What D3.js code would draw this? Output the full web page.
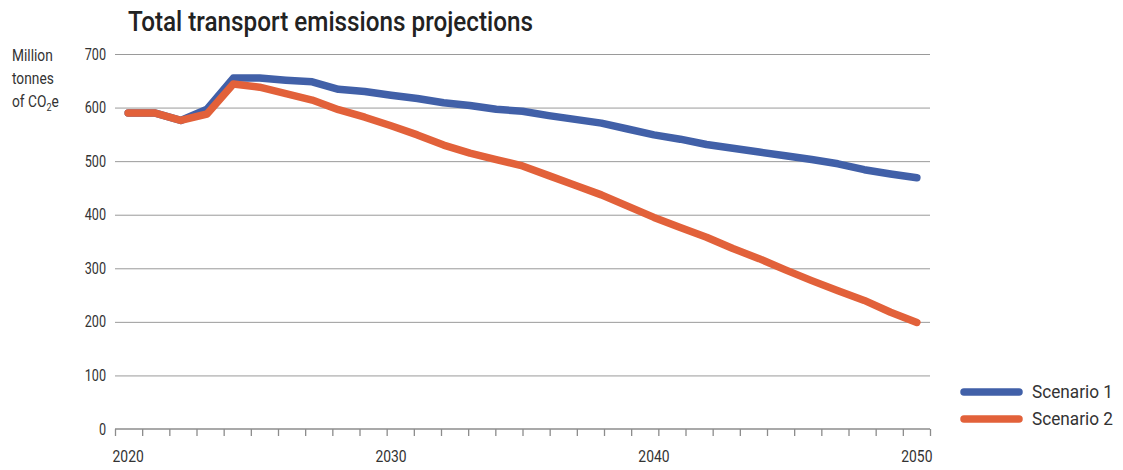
<!DOCTYPE html>
<html>
<head>
<meta charset="utf-8">
<script src="https://cdn.jsdelivr.net/npm/d3@7"></script>
<style>
  html, body { margin: 0; padding: 0; background: #fff; }
  svg { display: block; }
  text { font-family: "Roboto", "Noto Sans", sans-serif; }
</style>
</head>
<body>
<svg id="chart" width="1123" height="470"></svg>
<script>
// Projected total transport emissions, million tonnes CO2e
const years = d3.range(2020, 2051);
const scenario1 = [590, 590, 576, 597, 655, 655, 651, 648, 634, 630,
                   623, 617, 609, 604, 597, 593, 585, 578, 571, 560,
                   549, 541, 531, 524, 517, 510, 503, 495, 484, 476, 469];
const scenario2 = [590, 590, 576, 588, 644, 638, 626, 614, 596, 582,
                   566, 549, 530, 515, 503, 491, 473, 455, 437, 416,
                   395, 376, 358, 337, 318, 297, 277, 258, 240, 218, 199];
const yTicks = [0, 100, 200, 300, 400, 500, 600, 700];
const xLabels = [2020, 2030, 2040, 2050];
const seriesNames = ["Scenario 1", "Scenario 2"];
const seriesColors = ["#4160a8", "#e2613a"];

const svg = d3.select("#chart");
const plot = { left: 115, right: 930, top: 54, bottom: 429 };

// Squeeze a text run to the narrow width of the condensed face
const narrow = (sel, perChar) => sel.each(function () {
  const n = this.textContent.length;
  d3.select(this).attr("textLength", n * perChar).attr("lengthAdjust", "spacingAndGlyphs");
});

// Points sit at category centres; tick marks are spread evenly over the axis
const x = d3.scaleBand().domain(years).range([plot.left, plot.right]);
const xTick = d3.scaleLinear().domain([2020, 2050]).range([plot.left, plot.right]);
const y = d3.scaleLinear().domain([0, 700]).range([plot.bottom, plot.top]);

// Title
svg.append("text")
  .attr("x", 128).attr("y", 31)
  .attr("font-size", 27).attr("font-weight", 500).attr("fill", "#222")
  .attr("textLength", 405).attr("lengthAdjust", "spacingAndGlyphs")
  .text("Total transport emissions projections");

// Y axis unit label
const unit = svg.append("g").attr("transform", "translate(12,0) scale(0.86,1)")
  .append("text").attr("font-size", 16).attr("fill", "#333");
unit.append("tspan").attr("x", 0).attr("y", 61).text("Million");
unit.append("tspan").attr("x", 0).attr("y", 84).text("tonnes");
unit.append("tspan").attr("x", 0).attr("y", 107).text("of CO");
unit.append("tspan").attr("dy", 4).attr("font-size", 10.5).text("2");
unit.append("tspan").attr("dy", -4).text("e");

// Gridlines and y tick labels
const yAxis = d3.axisLeft(y).tickValues(yTicks).tickSize(-(plot.right - plot.left)).tickPadding(9);
const gy = svg.append("g").attr("transform", `translate(${plot.left},0)`).call(yAxis);
gy.select(".domain").remove();
gy.selectAll(".tick line").attr("stroke", d => d === 0 ? "none" : "#9a9a9a").attr("stroke-width", 1);
gy.selectAll(".tick text").attr("font-family", null).attr("font-size", 16).attr("fill", "#333")
  .call(narrow, 7.1);

// Bottom axis: baseline with yearly ticks
const xAxis = d3.axisBottom(xTick).tickValues(years).tickSize(7).tickFormat("");
const gx = svg.append("g").attr("transform", `translate(0,${plot.bottom})`).call(xAxis);
gx.select(".domain").attr("stroke", "#8c8c8c").attr("stroke-width", 1.3)
  .attr("d", `M${plot.left},0H${plot.right}`);
gx.selectAll(".tick line").attr("stroke", "#8c8c8c").attr("stroke-width", 1.3);

// Decade labels centred under their categories
svg.append("g").selectAll("text").data(xLabels).join("text")
  .attr("x", d => x(d) + x.bandwidth() / 2)
  .attr("y", 462)
  .attr("text-anchor", "middle")
  .attr("font-size", 16.5).attr("fill", "#333")
  .text(d => d)
  .call(narrow, 7.8);

// Series lines, scenario 2 drawn last so it sits on top
const line = d3.line()
  .x((d, i) => x(years[i]) + x.bandwidth() / 2)
  .y(d => y(d));
[0, 1].forEach(idx => {
  svg.append("path").datum([scenario1, scenario2][idx])
    .attr("d", line)
    .attr("fill", "none")
    .attr("stroke", seriesColors[idx])
    .attr("stroke-width", 7.5)
    .attr("stroke-linejoin", "round")
    .attr("stroke-linecap", "round");
});

// Legend
const lg = svg.append("g").selectAll("g").data(seriesNames).join("g")
  .attr("transform", (d, i) => `translate(0,${392 + i * 27})`);
lg.append("line").attr("x1", 964).attr("x2", 1019).attr("y1", 0).attr("y2", 0)
  .attr("stroke", (d, i) => seriesColors[i]).attr("stroke-width", 7.5)
  .attr("stroke-linecap", "round");
lg.append("text")
  .attr("x", 1032).attr("y", 0).attr("dy", "0.35em")
  .attr("font-size", 18.5).attr("fill", "#333")
  .text(d => d)
  .call(narrow, 8.1);
</script>
</body>
</html>
